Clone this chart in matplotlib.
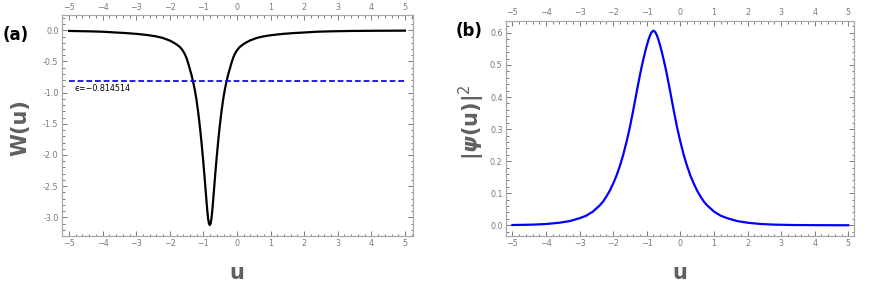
import matplotlib
matplotlib.use("Agg")
import matplotlib.pyplot as plt
from matplotlib.ticker import MultipleLocator, FormatStrFormatter

# ---- data ----
u_w = [-5.0, -4.41, -4.01, -3.61, -3.31, -3.01, -2.81, -2.61, -2.41, -2.21,
       -2.01, -1.91, -1.81, -1.71, -1.66, -1.61, -1.56, -1.51, -1.46, -1.41,
       -1.36, -1.31, -1.26, -1.21, -1.16, -1.11, -1.06, -1.01, -0.985, -0.96,
       -0.935, -0.91, -0.885, -0.86, -0.835, -0.81, -0.785, -0.76, -0.735,
       -0.71, -0.685, -0.66, -0.635, -0.61, -0.56, -0.51, -0.46, -0.41, -0.36,
       -0.31, -0.26, -0.21, -0.16, -0.11, -0.06, -0.01, 0.04, 0.09, 0.19, 0.29,
       0.39, 0.59, 0.79, 0.99, 1.19, 1.39, 1.69, 1.99, 2.39, 2.79, 3.39, 4.19,
       5.0]
w_vals = [-0.010, -0.016, -0.022, -0.035, -0.044, -0.056, -0.067, -0.080, -0.097,
          -0.122, -0.162, -0.19, -0.222, -0.263, -0.292, -0.328, -0.375, -0.435,
          -0.515, -0.61, -0.705, -0.815, -0.945, -1.10, -1.295, -1.52, -1.78,
          -2.07, -2.23, -2.39, -2.56, -2.73, -2.89, -3.02, -3.10, -3.125, -3.10,
          -3.02, -2.89, -2.73, -2.56, -2.39, -2.23, -2.07, -1.78, -1.52, -1.295,
          -1.10, -0.945, -0.815, -0.705, -0.61, -0.515, -0.435, -0.375, -0.328,
          -0.292, -0.263, -0.222, -0.19, -0.162, -0.122, -0.097, -0.080, -0.067,
          -0.056, -0.044, -0.035, -0.022, -0.016, -0.010, -0.007, -0.005]
epsilon = -0.814514

u_psi = [-5.0, -4.4, -4.0, -3.6, -3.3, -3.0, -2.8, -2.6, -2.4, -2.3, -2.2, -2.1,
         -2.0, -1.9, -1.8, -1.7, -1.6, -1.5, -1.4, -1.35, -1.3, -1.25, -1.2,
         -1.15, -1.1, -1.05, -1.0, -0.95, -0.9, -0.85, -0.8, -0.75, -0.7, -0.65,
         -0.6, -0.55, -0.5, -0.45, -0.4, -0.35, -0.3, -0.25, -0.2, -0.1, 0.0,
         0.1, 0.2, 0.3, 0.4, 0.5, 0.6, 0.7, 0.8, 1.0, 1.2, 1.4, 1.7, 2.0, 2.4,
         2.8, 3.4, 4.0, 5.0]
psi2 = [0.0008, 0.002, 0.004, 0.008, 0.013, 0.022, 0.030, 0.043, 0.062, 0.074,
        0.09, 0.108, 0.13, 0.155, 0.185, 0.22, 0.261, 0.307, 0.360, 0.388, 0.416,
        0.443, 0.470, 0.495, 0.518, 0.540, 0.560, 0.578, 0.593, 0.603, 0.607,
        0.603, 0.593, 0.578, 0.560, 0.540, 0.518, 0.495, 0.470, 0.443, 0.416,
        0.388, 0.360, 0.307, 0.261, 0.22, 0.185, 0.155, 0.13, 0.108, 0.09,
        0.074, 0.062, 0.043, 0.030, 0.022, 0.013, 0.008, 0.004, 0.002, 0.0008,
        0.0004, 0.0001]

x_ticks = [-5, -4, -3, -2, -1, 0, 1, 2, 3, 4, 5]

W, H = 872, 283
fig = plt.figure(figsize=(W / 100, H / 100), dpi=100)

frame_col = "#a8a8a8"
tick_col = "#7a7a7a"
label_col = "#606060"


def style(ax, ymaj, ymin, yfmt):
    for s in ax.spines.values():
        s.set_color(frame_col)
        s.set_linewidth(0.9)
    ax.set_xticks(x_ticks)
    ax.xaxis.set_minor_locator(MultipleLocator(0.2))
    ax.yaxis.set_major_locator(MultipleLocator(ymaj))
    ax.yaxis.set_minor_locator(MultipleLocator(ymin))
    ax.yaxis.set_major_formatter(FormatStrFormatter(yfmt))
    ax.tick_params(which="both", direction="in", top=True, right=True,
                   labeltop=True, labelbottom=True, labelleft=True,
                   labelright=False, colors=tick_col, labelcolor=tick_col,
                   labelsize=5.8, width=0.7)
    ax.tick_params(which="major", length=3.5, pad=2.5)
    ax.tick_params(which="minor", length=1.8)


def px_axes(x0, y0, x1, y1):
    return fig.add_axes([x0 / W, 1 - y1 / H, (x1 - x0) / W, (y1 - y0) / H])


# ---- panel (a) ----
ax1 = px_axes(62, 15, 413, 236)
ax1.plot(u_w, w_vals, color="black", lw=1.6, solid_joinstyle="round")
ax1.plot([u_w[0], u_w[-1]], [epsilon, epsilon], color="#1010e0", lw=1.3,
         dashes=(3.2, 1.6))
ax1.set_xlim(-5.21, 5.24)
ax1.set_ylim(-3.30, 0.246)
style(ax1, 0.5, 0.1, "%.1f")
ax1.text(-4.83, -0.94, "ϵ=−0.814514", fontsize=5.8, color="black",
         va="center", ha="left")

# ---- panel (b) ----
ax2 = px_axes(506, 20.7, 854, 236)
ax2.plot(u_psi, psi2, color="#0000ff", lw=1.6, solid_joinstyle="round")
ax2.set_xlim(-5.19, 5.17)
ax2.set_ylim(-0.0334, 0.638)
style(ax2, 0.1, 0.02, "%.1f")

# ---- labels ----
def ftext(x, y, s, **kw):
    fig.text(x / W, 1 - y / H, s, ha="center", va="center", **kw)

ftext(237, 273, "u", fontsize=15, fontweight="bold", color=label_col)
ftext(680, 273, "u", fontsize=15, fontweight="bold", color=label_col)
ftext(20, 128, "W(u)", fontsize=15, fontweight="bold", color=label_col,
      rotation=90)
ftext(472, 122, r"$\mathbf{|}\boldsymbol{\psi}\mathbf{(u)|}^{2}$", fontsize=15,
      color=label_col, rotation=90)
ftext(16, 35, "(a)", fontsize=12, fontweight="bold", color="black")
ftext(469, 31, "(b)", fontsize=12, fontweight="bold", color="black")

fig.savefig("out.png", dpi=100)
